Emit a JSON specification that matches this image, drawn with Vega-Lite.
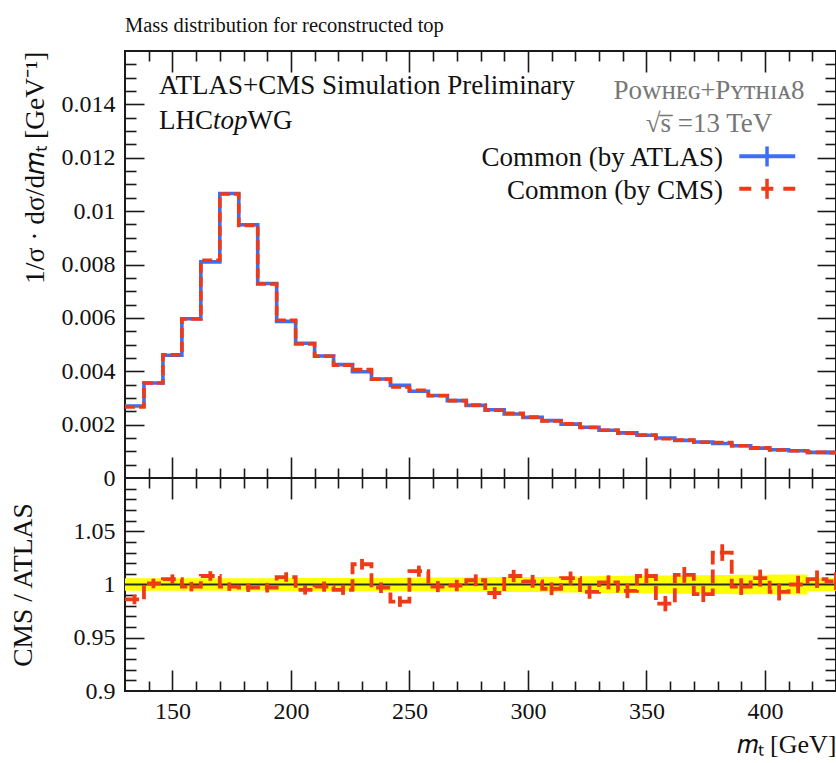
{
  "$schema": "https://vega.github.io/schema/vega-lite/v6.json",
  "background": "white",
  "padding": {"left": 8, "top": 14, "right": 0, "bottom": 4},
  "config": {
    "font": "Liberation Serif",
    "view": {"stroke": "#1a1a1a", "strokeWidth": 2},
    "axis": {
      "grid": false,
      "domain": false,
      "tickColor": "#1a1a1a",
      "tickWidth": 1.6,
      "labelFont": "Liberation Serif",
      "labelFontSize": 24,
      "labelColor": "#111111",
      "titleFont": "Liberation Serif",
      "titleFontSize": 26,
      "titleFontWeight": "normal",
      "titleColor": "#111111"
    },
    "text": {"font": "Liberation Serif", "fontSize": 27, "color": "#111111"}
  },
  "datasets": {
    "bins": [
      {"lo": 130, "mid": 134, "atlas": 0.00270, "cms": 0.00266, "ratio": 0.986, "elo": 0.9815, "ehi": 0.9905, "blo": 0.9942, "bhi": 1.0058},
      {"lo": 138, "mid": 142, "atlas": 0.00356, "cms": 0.00356, "ratio": 1.001, "elo": 0.9965, "ehi": 1.0055, "blo": 0.9942, "bhi": 1.0058},
      {"lo": 146, "mid": 150, "atlas": 0.00460, "cms": 0.00462, "ratio": 1.005, "elo": 1.0005, "ehi": 1.0095, "blo": 0.9942, "bhi": 1.0058},
      {"lo": 154, "mid": 158, "atlas": 0.00597, "cms": 0.00596, "ratio": 0.998, "elo": 0.9935, "ehi": 1.0025, "blo": 0.9942, "bhi": 1.0058},
      {"lo": 162, "mid": 166, "atlas": 0.00810, "cms": 0.00816, "ratio": 1.008, "elo": 1.0035, "ehi": 1.0125, "blo": 0.9942, "bhi": 1.0058},
      {"lo": 170, "mid": 174, "atlas": 0.01066, "cms": 0.01064, "ratio": 0.998, "elo": 0.994, "ehi": 1.002, "blo": 0.9942, "bhi": 1.0058},
      {"lo": 178, "mid": 182, "atlas": 0.00949, "cms": 0.00946, "ratio": 0.997, "elo": 0.993, "ehi": 1.001, "blo": 0.9942, "bhi": 1.0058},
      {"lo": 186, "mid": 190, "atlas": 0.00729, "cms": 0.00727, "ratio": 0.997, "elo": 0.9925, "ehi": 1.0015, "blo": 0.9942, "bhi": 1.0058},
      {"lo": 194, "mid": 198, "atlas": 0.00587, "cms": 0.00591, "ratio": 1.007, "elo": 1.0025, "ehi": 1.0115, "blo": 0.994, "bhi": 1.006},
      {"lo": 202, "mid": 206, "atlas": 0.00505, "cms": 0.00502, "ratio": 0.995, "elo": 0.9905, "ehi": 0.9995, "blo": 0.994, "bhi": 1.006},
      {"lo": 210, "mid": 214, "atlas": 0.00457, "cms": 0.00456, "ratio": 0.998, "elo": 0.9932, "ehi": 1.0028, "blo": 0.994, "bhi": 1.006},
      {"lo": 218, "mid": 222, "atlas": 0.00425, "cms": 0.00423, "ratio": 0.995, "elo": 0.9902, "ehi": 0.9998, "blo": 0.994, "bhi": 1.006},
      {"lo": 226, "mid": 230, "atlas": 0.00398, "cms": 0.00406, "ratio": 1.019, "elo": 1.014, "ehi": 1.024, "blo": 0.9939, "bhi": 1.0061},
      {"lo": 234, "mid": 238, "atlas": 0.00371, "cms": 0.00370, "ratio": 0.997, "elo": 0.992, "ehi": 1.002, "blo": 0.9938, "bhi": 1.0062},
      {"lo": 242, "mid": 246, "atlas": 0.00347, "cms": 0.00341, "ratio": 0.984, "elo": 0.979, "ehi": 0.989, "blo": 0.9937, "bhi": 1.0063},
      {"lo": 250, "mid": 254, "atlas": 0.00325, "cms": 0.00329, "ratio": 1.0125, "elo": 1.0073, "ehi": 1.0177, "blo": 0.9936, "bhi": 1.0064},
      {"lo": 258, "mid": 262, "atlas": 0.00309, "cms": 0.00308, "ratio": 0.998, "elo": 0.9928, "ehi": 1.0032, "blo": 0.9935, "bhi": 1.0065},
      {"lo": 266, "mid": 270, "atlas": 0.00290, "cms": 0.00290, "ratio": 0.999, "elo": 0.9936, "ehi": 1.0044, "blo": 0.9934, "bhi": 1.0066},
      {"lo": 274, "mid": 278, "atlas": 0.00272, "cms": 0.00273, "ratio": 1.004, "elo": 0.9985, "ehi": 1.0095, "blo": 0.9933, "bhi": 1.0067},
      {"lo": 282, "mid": 286, "atlas": 0.00256, "cms": 0.00254, "ratio": 0.992, "elo": 0.9864, "ehi": 0.9976, "blo": 0.9932, "bhi": 1.0068},
      {"lo": 290, "mid": 294, "atlas": 0.00240, "cms": 0.00242, "ratio": 1.008, "elo": 1.0022, "ehi": 1.0138, "blo": 0.993, "bhi": 1.007},
      {"lo": 298, "mid": 302, "atlas": 0.00227, "cms": 0.00228, "ratio": 1.003, "elo": 0.997, "ehi": 1.009, "blo": 0.9929, "bhi": 1.0071},
      {"lo": 306, "mid": 310, "atlas": 0.00215, "cms": 0.00214, "ratio": 0.996, "elo": 0.990, "ehi": 1.002, "blo": 0.9927, "bhi": 1.0073},
      {"lo": 314, "mid": 318, "atlas": 0.00202, "cms": 0.00203, "ratio": 1.006, "elo": 0.9998, "ehi": 1.0122, "blo": 0.9925, "bhi": 1.0075},
      {"lo": 322, "mid": 326, "atlas": 0.00190, "cms": 0.00189, "ratio": 0.993, "elo": 0.9866, "ehi": 0.9994, "blo": 0.9923, "bhi": 1.0077},
      {"lo": 330, "mid": 334, "atlas": 0.00179, "cms": 0.00179, "ratio": 1.002, "elo": 0.9954, "ehi": 1.0086, "blo": 0.9921, "bhi": 1.0079},
      {"lo": 338, "mid": 342, "atlas": 0.00169, "cms": 0.00168, "ratio": 0.994, "elo": 0.9872, "ehi": 1.0008, "blo": 0.9919, "bhi": 1.0081},
      {"lo": 346, "mid": 350, "atlas": 0.00160, "cms": 0.00161, "ratio": 1.008, "elo": 1.001, "ehi": 1.015, "blo": 0.9917, "bhi": 1.0083},
      {"lo": 354, "mid": 358, "atlas": 0.00150, "cms": 0.00147, "ratio": 0.982, "elo": 0.9748, "ehi": 0.9892, "blo": 0.9915, "bhi": 1.0085},
      {"lo": 362, "mid": 366, "atlas": 0.00141, "cms": 0.00142, "ratio": 1.009, "elo": 1.0016, "ehi": 1.0164, "blo": 0.9913, "bhi": 1.0087},
      {"lo": 370, "mid": 374, "atlas": 0.00135, "cms": 0.00134, "ratio": 0.991, "elo": 0.9835, "ehi": 0.9985, "blo": 0.9912, "bhi": 1.0088},
      {"lo": 378, "mid": 382, "atlas": 0.00129, "cms": 0.00133, "ratio": 1.030, "elo": 1.0222, "ehi": 1.0378, "blo": 0.991, "bhi": 1.009},
      {"lo": 386, "mid": 390, "atlas": 0.00121, "cms": 0.00121, "ratio": 0.998, "elo": 0.9902, "ehi": 1.0058, "blo": 0.9909, "bhi": 1.0091},
      {"lo": 394, "mid": 398, "atlas": 0.00112, "cms": 0.00113, "ratio": 1.006, "elo": 0.998, "ehi": 1.014, "blo": 0.9908, "bhi": 1.0092},
      {"lo": 402, "mid": 406, "atlas": 0.00106, "cms": 0.00105, "ratio": 0.993, "elo": 0.985, "ehi": 1.001, "blo": 0.9907, "bhi": 1.0093},
      {"lo": 410, "mid": 414, "atlas": 0.00102, "cms": 0.00102, "ratio": 1.000, "elo": 0.9918, "ehi": 1.0082, "blo": 0.9906, "bhi": 1.0094},
      {"lo": 418, "mid": 422, "atlas": 0.00096, "cms": 0.00096, "ratio": 1.005, "elo": 0.9968, "ehi": 1.0132, "blo": 0.994, "bhi": 1.006},
      {"lo": 426, "mid": 430, "atlas": 0.00095, "cms": 0.00095, "ratio": 1.003, "elo": 0.9945, "ehi": 1.0115, "blo": 0.994, "bhi": 1.006},
      {"lo": 434, "mid": null, "atlas": 0.00095, "cms": 0.00095, "ratio": 1.003, "elo": null, "ehi": null, "blo": 0.994, "bhi": 1.006}
    ]
  },
  "spacing": 0,
  "bounds": "flush",
  "vconcat": [
    {
      "width": 711,
      "height": 427,
      "title": {
        "text": "Mass distribution for reconstructed top",
        "anchor": "start",
        "frame": "group",
        "font": "Liberation Serif",
        "fontSize": 20.5,
        "fontWeight": "normal",
        "color": "#111111",
        "offset": 14
      },
      "resolve": {"axis": {"x": "independent", "y": "independent"}},
      "layer": [
        {
          "data": {"name": "bins"},
          "mark": {"type": "line", "interpolate": "step-after", "color": "#3e6ef4", "strokeWidth": 3.6, "clip": true},
          "encoding": {
            "x": {"field": "lo", "type": "quantitative", "scale": {"domain": [130, 430], "nice": false, "zero": false},
                  "axis": {"orient": "bottom", "labels": false, "title": null, "values": [150, 200, 250, 300, 350, 400], "tickSize": -21}},
            "y": {"field": "atlas", "type": "quantitative", "scale": {"domain": [0, 0.016], "nice": false},
                  "axis": {"orient": "left", "ticks": false, "values": [0, 0.002, 0.004, 0.006, 0.008, 0.01, 0.012, 0.014], "format": "~g",
                           "labelPadding": 10, "title": "1/σ · dσ/d𝑚ₜ [GeV⁻¹]", "titleFontSize": 27.5, "titleAnchor": "end", "titlePadding": 12}}
          }
        },
        {
          "data": {"name": "bins"},
          "mark": {"type": "line", "interpolate": "step-after", "color": "#ee3a16", "strokeWidth": 3.6, "strokeDash": [10, 4], "clip": true},
          "encoding": {
            "x": {"field": "lo", "type": "quantitative",
                  "axis": {"orient": "top", "labels": false, "title": null, "values": [150, 200, 250, 300, 350, 400], "tickSize": -21}},
            "y": {"field": "cms", "type": "quantitative",
                  "axis": {"orient": "right", "labels": false, "title": null, "values": [0.002, 0.004, 0.006, 0.008, 0.01, 0.012, 0.014], "tickSize": -19}}
          }
        },
        {
          "data": {"name": "bins"},
          "mark": {"type": "point", "opacity": 0},
          "encoding": {
            "x": {"field": "lo", "type": "quantitative",
                  "axis": {"orient": "bottom", "labels": false, "title": null, "tickSize": -10,
                           "values": [140, 160, 170, 180, 190, 210, 220, 230, 240, 260, 270, 280, 290, 310, 320, 330, 340, 360, 370, 380, 390, 410, 420]}},
            "y": {"field": "atlas", "type": "quantitative",
                  "axis": {"orient": "left", "labels": false, "title": null, "values": [0.002, 0.004, 0.006, 0.008, 0.01, 0.012, 0.014], "tickSize": -19}}
          }
        },
        {
          "data": {"name": "bins"},
          "mark": {"type": "point", "opacity": 0},
          "encoding": {
            "x": {"field": "lo", "type": "quantitative",
                  "axis": {"orient": "top", "labels": false, "title": null, "tickSize": -10,
                           "values": [140, 160, 170, 180, 190, 210, 220, 230, 240, 260, 270, 280, 290, 310, 320, 330, 340, 360, 370, 380, 390, 410, 420]}},
            "y": {"field": "atlas", "type": "quantitative",
                  "axis": {"orient": "left", "labels": false, "title": null, "tickSize": -11,
                           "values": [0.0005, 0.001, 0.0015, 0.0025, 0.003, 0.0035, 0.0045, 0.005, 0.0055, 0.0065, 0.007, 0.0075, 0.0085, 0.009, 0.0095, 0.0105, 0.011, 0.0115, 0.0125, 0.013, 0.0135, 0.0145, 0.015, 0.0155]}}
          }
        },
        {
          "data": {"name": "bins"},
          "mark": {"type": "point", "opacity": 0},
          "encoding": {
            "x": {"field": "lo", "type": "quantitative", "axis": null},
            "y": {"field": "atlas", "type": "quantitative",
                  "axis": {"orient": "right", "labels": false, "title": null, "tickSize": -11,
                           "values": [0.0005, 0.001, 0.0015, 0.0025, 0.003, 0.0035, 0.0045, 0.005, 0.0055, 0.0065, 0.007, 0.0075, 0.0085, 0.009, 0.0095, 0.0105, 0.011, 0.0115, 0.0125, 0.013, 0.0135, 0.0145, 0.015, 0.0155]}}
          }
        },
        {
          "data": {"values": [{}]},
          "mark": {"type": "text", "align": "left", "baseline": "alphabetic", "text": "ATLAS+CMS Simulation Preliminary"},
          "encoding": {"x": {"datum": 144.35, "type": "quantitative", "axis": null}, "y": {"datum": 0.014374, "type": "quantitative", "axis": null}}
        },
        {
          "data": {"values": [{}]},
          "mark": {"type": "text", "align": "left", "baseline": "alphabetic", "text": "LHC"},
          "encoding": {"x": {"datum": 144.35, "type": "quantitative", "axis": null}, "y": {"datum": 0.013088, "type": "quantitative", "axis": null}}
        },
        {
          "data": {"values": [{}]},
          "mark": {"type": "text", "align": "left", "baseline": "alphabetic", "fontStyle": "italic", "text": "top"},
          "encoding": {"x": {"datum": 167.1, "type": "quantitative", "axis": null}, "y": {"datum": 0.013088, "type": "quantitative", "axis": null}}
        },
        {
          "data": {"values": [{}]},
          "mark": {"type": "text", "align": "left", "baseline": "alphabetic", "text": "WG"},
          "encoding": {"x": {"datum": 181.7, "type": "quantitative", "axis": null}, "y": {"datum": 0.013088, "type": "quantitative", "axis": null}}
        },
        {
          "data": {"values": [{}]},
          "mark": {"type": "text", "align": "center", "baseline": "alphabetic", "color": "#777777", "text": "Pᴏᴡʜᴇɢ+Pʏᴛʜɪᴀ8"},
          "encoding": {"x": {"datum": 376.4, "type": "quantitative", "axis": null}, "y": {"datum": 0.014213, "type": "quantitative", "axis": null}}
        },
        {
          "data": {"values": [{}]},
          "mark": {"type": "text", "align": "center", "baseline": "alphabetic", "color": "#777777", "text": "√s̅ =13 TeV"},
          "encoding": {"x": {"datum": 376.4, "type": "quantitative", "axis": null}, "y": {"datum": 0.01296, "type": "quantitative", "axis": null}}
        },
        {
          "data": {"values": [{}]},
          "mark": {"type": "text", "align": "right", "baseline": "alphabetic", "text": "Common (by ATLAS)"},
          "encoding": {"x": {"datum": 382.3, "type": "quantitative", "axis": null}, "y": {"datum": 0.011685, "type": "quantitative", "axis": null}}
        },
        {
          "data": {"values": [{}]},
          "mark": {"type": "text", "align": "right", "baseline": "alphabetic", "text": "Common (by CMS)"},
          "encoding": {"x": {"datum": 382.3, "type": "quantitative", "axis": null}, "y": {"datum": 0.010463, "type": "quantitative", "axis": null}}
        },
        {
          "data": {"values": [{}]},
          "mark": {"type": "rule", "color": "#3e6ef4", "strokeWidth": 4},
          "encoding": {"x": {"datum": 389.2, "type": "quantitative", "axis": null}, "x2": {"datum": 412.8}, "y": {"datum": 0.01206, "type": "quantitative", "axis": null}}
        },
        {
          "data": {"values": [{}]},
          "mark": {"type": "rule", "color": "#3e6ef4", "strokeWidth": 3.5},
          "encoding": {"x": {"datum": 400.9, "type": "quantitative", "axis": null}, "y": {"datum": 0.011674, "type": "quantitative", "axis": null}, "y2": {"datum": 0.012424}}
        },
        {
          "data": {"values": [{}]},
          "mark": {"type": "rule", "color": "#ee3a16", "strokeWidth": 4, "strokeDash": [12, 10]},
          "encoding": {"x": {"datum": 389.2, "type": "quantitative", "axis": null}, "x2": {"datum": 412.8}, "y": {"datum": 0.010838, "type": "quantitative", "axis": null}}
        },
        {
          "data": {"values": [{}]},
          "mark": {"type": "rule", "color": "#ee3a16", "strokeWidth": 3.5},
          "encoding": {"x": {"datum": 400.9, "type": "quantitative", "axis": null}, "y": {"datum": 0.010463, "type": "quantitative", "axis": null}, "y2": {"datum": 0.011213}}
        }
      ]
    },
    {
      "width": 711,
      "height": 213,
      "resolve": {"axis": {"x": "independent", "y": "independent"}},
      "layer": [
        {
          "data": {"name": "bins"},
          "mark": {"type": "area", "interpolate": "step-after", "color": "#ffff00", "opacity": 1, "clip": true},
          "encoding": {
            "x": {"field": "lo", "type": "quantitative", "scale": {"domain": [130, 430], "nice": false, "zero": false},
                  "axis": {"orient": "bottom", "ticks": false, "values": [150, 200, 250, 300, 350, 400], "labelPadding": 8,
                           "title": "𝑚ₜ [GeV]", "titleAnchor": "end", "titlePadding": 8}},
            "y": {"field": "blo", "type": "quantitative", "scale": {"domain": [0.9, 1.1], "nice": false, "zero": false},
                  "axis": {"orient": "left", "ticks": false, "values": [0.9, 0.95, 1, 1.05], "format": "~g", "labelPadding": 10,
                           "title": "CMS / ATLAS", "titleFontSize": 27.5, "titlePadding": 36}},
            "y2": {"field": "bhi"}
          }
        },
        {
          "data": {"values": [{}]},
          "mark": {"type": "rule", "color": "#2a2e22", "strokeWidth": 2.2},
          "encoding": {"y": {"datum": 1, "type": "quantitative", "axis": null}}
        },
        {
          "data": {"name": "bins"},
          "mark": {"type": "line", "interpolate": "step-after", "color": "#ee3a16", "strokeWidth": 3.8, "strokeDash": [14, 5], "clip": true},
          "encoding": {
            "x": {"field": "lo", "type": "quantitative",
                  "axis": {"orient": "top", "labels": false, "title": null, "values": [150, 200, 250, 300, 350, 400], "tickSize": -21}},
            "y": {"field": "ratio", "type": "quantitative",
                  "axis": {"orient": "right", "labels": false, "title": null, "values": [0.95, 1, 1.05], "tickSize": -19}}
          }
        },
        {
          "data": {"name": "bins"},
          "mark": {"type": "rule", "color": "#ee3a16", "strokeWidth": 3.8, "clip": true},
          "encoding": {
            "x": {"field": "mid", "type": "quantitative",
                  "axis": {"orient": "bottom", "labels": false, "title": null, "values": [150, 200, 250, 300, 350, 400], "tickSize": -21}},
            "y": {"field": "elo", "type": "quantitative",
                  "axis": {"orient": "left", "labels": false, "title": null, "values": [0.95, 1, 1.05], "tickSize": -19}},
            "y2": {"field": "ehi"}
          }
        },
        {
          "data": {"name": "bins"},
          "mark": {"type": "point", "opacity": 0},
          "encoding": {
            "x": {"field": "lo", "type": "quantitative",
                  "axis": {"orient": "bottom", "labels": false, "title": null, "tickSize": -10,
                           "values": [140, 160, 170, 180, 190, 210, 220, 230, 240, 260, 270, 280, 290, 310, 320, 330, 340, 360, 370, 380, 390, 410, 420]}},
            "y": {"field": "ratio", "type": "quantitative",
                  "axis": {"orient": "left", "labels": false, "title": null, "tickSize": -11,
                           "values": [0.91, 0.92, 0.93, 0.94, 0.96, 0.97, 0.98, 0.99, 1.01, 1.02, 1.03, 1.04, 1.06, 1.07, 1.08, 1.09]}}
          }
        },
        {
          "data": {"name": "bins"},
          "mark": {"type": "point", "opacity": 0},
          "encoding": {
            "x": {"field": "lo", "type": "quantitative",
                  "axis": {"orient": "top", "labels": false, "title": null, "tickSize": -10,
                           "values": [140, 160, 170, 180, 190, 210, 220, 230, 240, 260, 270, 280, 290, 310, 320, 330, 340, 360, 370, 380, 390, 410, 420]}},
            "y": {"field": "ratio", "type": "quantitative",
                  "axis": {"orient": "right", "labels": false, "title": null, "tickSize": -11,
                           "values": [0.91, 0.92, 0.93, 0.94, 0.96, 0.97, 0.98, 0.99, 1.01, 1.02, 1.03, 1.04, 1.06, 1.07, 1.08, 1.09]}}
          }
        }
      ]
    }
  ]
}
